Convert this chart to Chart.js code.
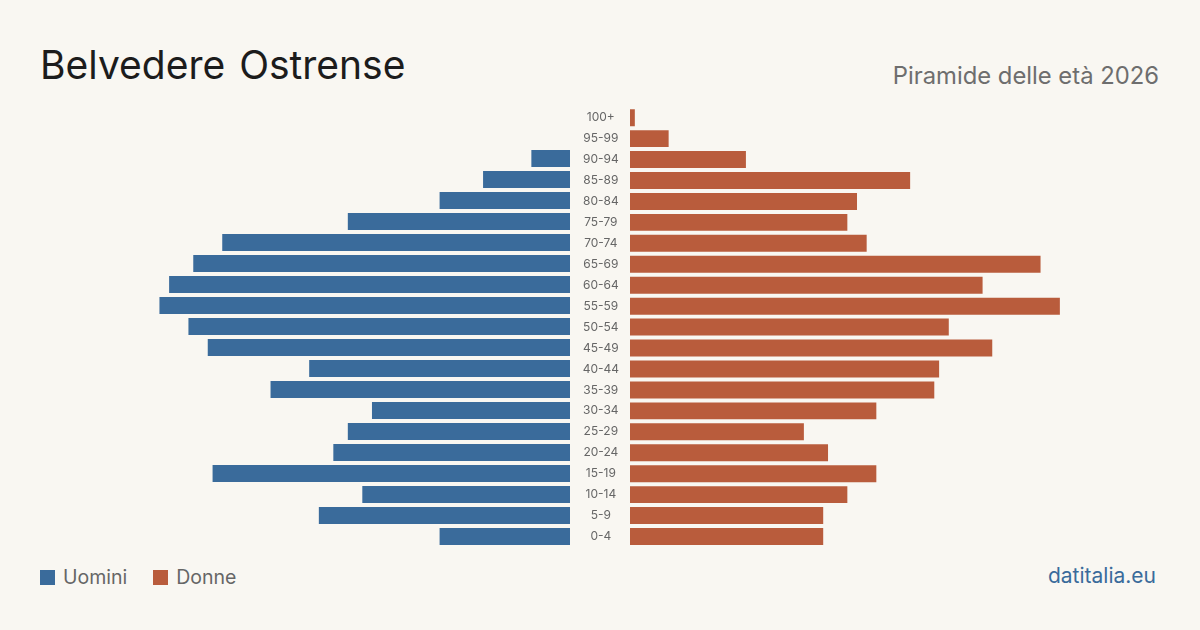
<!DOCTYPE html>
<html lang="it">
<head>
    <meta charset="UTF-8">
    <title>Belvedere Ostrense - Piramide delle età 2026</title>
    <script src="https://cdn.jsdelivr.net/npm/chart.js"></script>
    <style>
        html, body {
            margin: 0;
            padding: 0;
            background: #f9f7f2;
            font-family: Inter, "Noto Sans", sans-serif;
        }
        .page {
            position: relative;
            width: 1200px;
            height: 630px;
            overflow: hidden;
        }
        .title {
            position: absolute;
            left: 40px;
            top: 41px;
            font-size: 39px;
            color: #1c1c1c;
            word-spacing: 3px;
        }
        .subtitle {
            position: absolute;
            right: 41px;
            top: 61px;
            font-size: 23.8px;
            color: #6e6e6e;
        }
        .box {
            position: absolute;
            top: 100px;
            height: 455px;
        }
        #leftBox { left: 0; width: 570px; }
        #rightBox { left: 570px; width: 630px; }
        .legend {
            position: absolute;
            left: 40px;
            top: 565px;
            font-size: 19.5px;
            color: #666;
            display: flex;
            align-items: center;
        }
        .legend span.sw {
            display: inline-block;
            width: 15px;
            height: 15px;
            margin-right: 8px;
        }
        .legend .item {
            display: flex;
            align-items: center;
            margin-right: 26px;
        }
        .source {
            position: absolute;
            right: 44px;
            top: 563px;
            font-size: 21px;
            color: #3a6b9b;
        }
    </style>
</head>
<body>
<div class="page">
    <div class="title">Belvedere Ostrense</div>
    <div class="subtitle">Piramide delle età 2026</div>
    <div class="box" id="leftBox"><canvas id="menChart"></canvas></div>
    <div class="box" id="rightBox"><canvas id="womenChart"></canvas></div>
    <div class="legend">
        <div class="item"><span class="sw" style="background:#3a6b9b"></span>Uomini</div>
        <div class="item"><span class="sw" style="background:#b95c3c"></span>Donne</div>
    </div>
    <div class="source">datitalia.eu</div>
</div>

<script>
    const ageGroups = ['100+', '95-99', '90-94', '85-89', '80-84', '75-79', '70-74', '65-69', '60-64',
        '55-59', '50-54', '45-49', '40-44', '35-39', '30-34', '25-29', '20-24', '15-19', '10-14', '5-9', '0-4'];
    const men = [0, 0, 8, 18, 27, 46, 72, 78, 83, 85, 79, 75, 54, 62, 41, 46, 49, 74, 43, 52, 27];
    const women = [1, 8, 24, 58, 47, 45, 49, 85, 73, 89, 66, 75, 64, 63, 51, 36, 41, 51, 45, 40, 40];
    const axisMax = 100;

    const blue = '#3a6b9b';
    const orange = '#b95c3c';

    function makeChart(id, values, color, isLeft) {
        const yAxis = {
            display: !isLeft,
            grid: { display: false },
            border: { display: false },
            ticks: {
                crossAlign: 'center',
                padding: 3,
                color: '#666',
                // small lineHeight keeps the tick padding from squeezing the rows
                font: { family: 'Inter', size: 12, lineHeight: 0.7 }
            }
        };
        if (!isLeft) {
            yAxis.afterFit = (scale) => { scale.width = 60; };
        }

        return new Chart(document.getElementById(id), {
            type: 'bar',
            data: {
                labels: ageGroups,
                datasets: [{
                    data: values,
                    backgroundColor: color,
                    borderWidth: 0,
                    barPercentage: 0.81,
                    categoryPercentage: 1
                }]
            },
            options: {
                indexAxis: 'y',
                responsive: true,
                maintainAspectRatio: false,
                animation: false,
                layout: {
                    padding: isLeft
                        ? { left: 87, right: 0, top: 6, bottom: 8 }
                        : { left: 0, right: 87, top: 6, bottom: 8 }
                },
                plugins: {
                    legend: { display: false },
                    tooltip: { enabled: false }
                },
                scales: {
                    x: {
                        display: false,
                        min: 0,
                        max: axisMax,
                        reverse: isLeft
                    },
                    y: yAxis
                }
            }
        });
    }

    makeChart('menChart', men, blue, true);
    makeChart('womenChart', women, orange, false);
</script>
</body>
</html>
